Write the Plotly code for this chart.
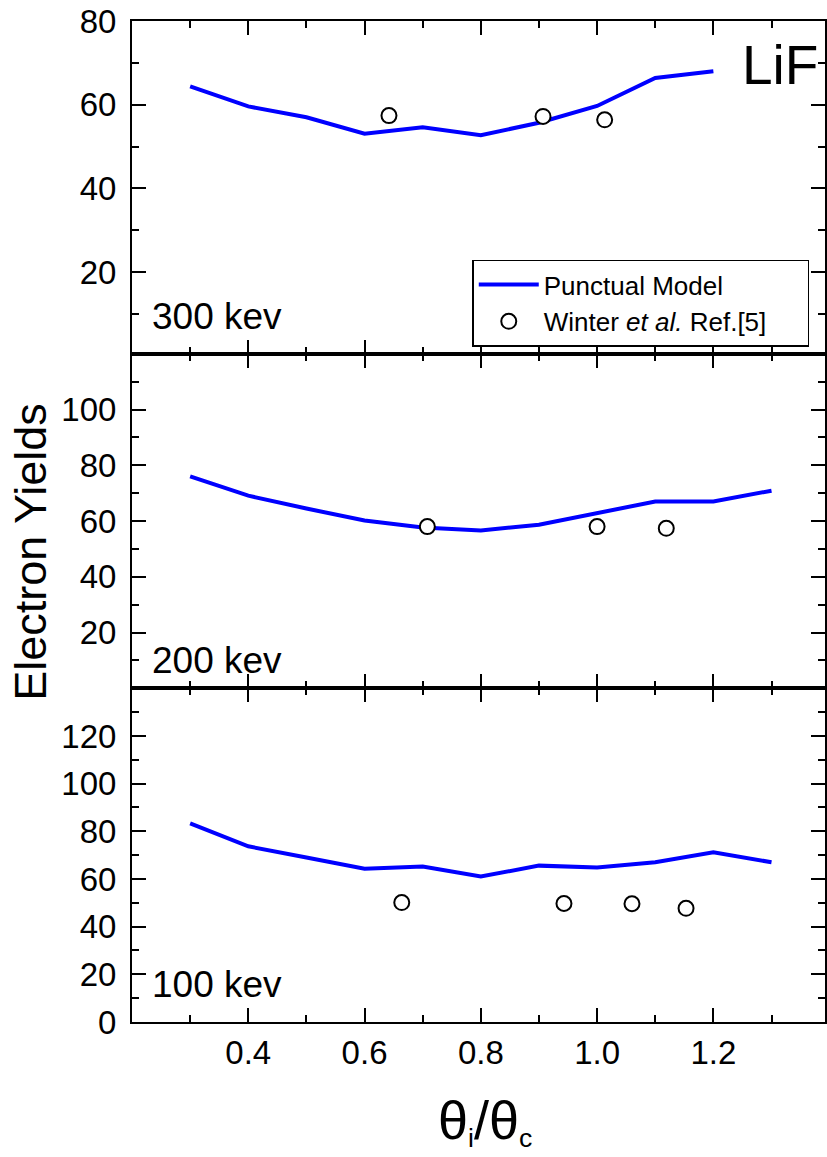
import plotly.graph_objects as go

# ---------------- data ----------------
theta_model = [0.3, 0.4, 0.5, 0.6, 0.7, 0.8, 0.9, 1.0, 1.1, 1.2, 1.3]

model_300 = [64.4, 59.6, 57.0, 53.1, 54.6, 52.7, 55.7, 59.7, 66.4, 68.0]
model_200 = [76.0, 69.1, 64.5, 60.2, 57.7, 56.6, 58.7, 62.7, 67.0, 67.0, 70.9]
model_100 = [83.3, 73.7, 69.0, 64.3, 65.2, 61.0, 65.6, 64.8, 67.0, 71.2, 67.0]

exp_x_300 = [0.642, 0.907, 1.013]
exp_y_300 = [57.4, 57.2, 56.4]
exp_x_200 = [0.708, 1.000, 1.119]
exp_y_200 = [58.0, 58.0, 57.4]
exp_x_100 = [0.664, 0.943, 1.060, 1.153]
exp_y_100 = [50.1, 49.7, 49.6, 47.7]

panel_labels = ["300 kev", "200 kev", "100 kev"]
x_tickvals = [0.4, 0.6, 0.8, 1.0, 1.2]
x_minorvals = [0.3, 0.5, 0.7, 0.9, 1.1, 1.3]

FONT = "Liberation Sans, Arial, sans-serif"
BLUE = "#0000FF"

fig = go.Figure()

panels = [
    ("1", theta_model[:len(model_300)], model_300, exp_x_300, exp_y_300, True),
    ("2", theta_model, model_200, exp_x_200, exp_y_200, False),
    ("3", theta_model, model_100, exp_x_100, exp_y_100, False),
]
for ax, mx, my, ex, ey, show in panels:
    xa = "x" if ax == "1" else "x" + ax
    ya = "y" if ax == "1" else "y" + ax
    fig.add_trace(go.Scatter(x=mx, y=my, mode="lines", xaxis=xa, yaxis=ya,
                             line=dict(color=BLUE, width=4),
                             name="Punctual Model", showlegend=show))
    fig.add_trace(go.Scatter(x=ex, y=ey, mode="markers", xaxis=xa, yaxis=ya,
                             marker=dict(symbol="circle", size=15, color="white",
                                         line=dict(color="black", width=2)),
                             name="Winter <i>et al.</i> Ref.[5]" + "&nbsp;" * 5,
                             showlegend=show))

tickfont = dict(family=FONT, size=33, color="black")

def xaxis(domain_anchor, show_labels):
    return dict(range=[0.2, 1.392], anchor=domain_anchor, showline=True, linecolor="black",
                linewidth=2, mirror="ticks", ticks="inside", ticklen=14, tickwidth=2,
                tickcolor="black", tickvals=x_tickvals,
                ticktext=[f"{v:.1f}" for v in x_tickvals],
                showticklabels=show_labels, tickfont=tickfont, showgrid=False,
                zeroline=False,
                minor=dict(tickvals=x_minorvals, ticks="inside", ticklen=7,
                           tickwidth=2, tickcolor="black", showgrid=False))

def yaxis(domain, rng, major, labels, minor, anchor):
    return dict(domain=domain, range=rng, anchor=anchor, showline=True, linecolor="black",
                linewidth=2, mirror="ticks", ticks="inside", ticklen=14, tickwidth=2,
                tickcolor="black", tickvals=major,
                ticktext=[str(v) if v in labels else "" for v in major],
                tickfont=tickfont, showgrid=False, zeroline=False,
                ticklabelstandoff=7,
                minor=dict(tickvals=minor, ticks="inside", ticklen=7, tickwidth=2,
                           tickcolor="black", showgrid=False))

fig.update_layout(
    width=827, height=1157,
    margin=dict(l=132, r=0, t=21, b=135),
    paper_bgcolor="white", plot_bgcolor="white",
    font=dict(family=FONT, color="black"),
    xaxis=xaxis("y", False),
    xaxis2=xaxis("y2", False),
    xaxis3=xaxis("y3", True),
    yaxis=yaxis([0.6675, 1.0], [0.5, 80], [20, 40, 60, 80], [20, 40, 60, 80],
                [10, 30, 50, 70], "x"),
    yaxis2=yaxis([0.3334, 0.6675], [0, 120], [0, 20, 40, 60, 80, 100, 120],
                 [20, 40, 60, 80, 100], [10, 30, 50, 70, 90, 110], "x2"),
    yaxis3=yaxis([0.0, 0.3334], [0, 140], [0, 20, 40, 60, 80, 100, 120, 140],
                 [0, 20, 40, 60, 80, 100, 120], [10, 30, 50, 70, 90, 110, 130], "x3"),
    legend=dict(x=0.491, y=0.7616, xanchor="left", yanchor="top",
                bordercolor="black", borderwidth=1.5, bgcolor="white",
                font=dict(family=FONT, size=26, color="black"),
                tracegroupgap=0, itemwidth=60),
    showlegend=True,
)

label_y = [0.7043, 0.3608, 0.0377]
for txt, yy in zip(panel_labels, label_y):
    fig.add_annotation(text=txt, xref="paper", yref="paper", x=0.026, y=yy,
                       xanchor="left", yanchor="middle", showarrow=False,
                       font=dict(family=FONT, size=37, color="black"))

fig.add_annotation(text="LiF", xref="paper", yref="paper", x=0.8777, y=0.9557,
                   xanchor="left", yanchor="middle", showarrow=False,
                   font=dict(family=FONT, size=55, color="black"))

fig.add_annotation(text="Electron Yields", xref="paper", yref="paper", x=-0.1463, y=0.4693,
                   xanchor="center", yanchor="middle", textangle=-90, showarrow=False,
                   font=dict(family=FONT, size=45, color="black"))

big = "<span style='font-size:54px'>"
fig.add_annotation(text=f"{big}θ</span><sub>i</sub>{big}/θ</span><sub>c</sub>",
                   xref="paper", yref="paper", x=0.5097, y=-0.0992,
                   xanchor="center", yanchor="middle", showarrow=False,
                   font=dict(family=FONT, size=38, color="black"))

fig.write_html("out.html")
